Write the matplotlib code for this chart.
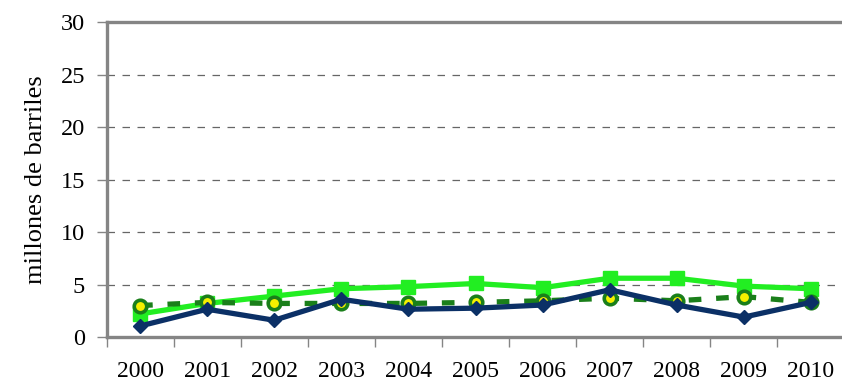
import numpy as np
import matplotlib
matplotlib.use("Agg")
import matplotlib.pyplot as plt
from matplotlib.ticker import FixedLocator, NullFormatter

# ---------- data ----------
years = ["2000", "2001", "2002", "2003", "2004", "2005",
         "2006", "2007", "2008", "2009", "2010"]
serie_verde = [2.2, 3.2, 3.9, 4.6, 4.8, 5.1, 4.7, 5.6, 5.6, 4.85, 4.6]
serie_punteada = [3.0, 3.3, 3.2, 3.2, 3.2, 3.3, 3.45, 3.7, 3.45, 3.85, 3.3]
serie_azul = [1.05, 2.65, 1.6, 3.6, 2.65, 2.75, 3.05, 4.5, 3.05, 1.9, 3.3]

plt.rcParams['font.family'] = ['Liberation Serif', 'DejaVu Serif']

fig = plt.figure(figsize=(8.42, 3.83), dpi=100)
ax = fig.add_axes([0.1265, 0.120, 0.8765, 0.8225])

x = np.arange(len(years))
gray = "#858585"

ax.plot(x, serie_verde, color="#22ee22", lw=3.8, marker="s", ms=10,
        mfc="#22ee22", mec="#22ee22", zorder=3)
ax.plot(x, serie_punteada, color="#1a7f1a", lw=3.8, dashes=(2.4, 2.8),
        marker="o", ms=9, mfc="#f5f000", mec="#1a7f1a", mew=2.6, zorder=4)
ax.plot(x, serie_azul, color="#0b3066", lw=3.8, marker="D", ms=7.5,
        mfc="#0b3066", mec="#0b3066", zorder=5)

ax.set_xlim(-0.5, len(years) - 0.5)
ax.set_ylim(0, 30)
ax.set_yticks(range(0, 31, 5))
ax.set_xticks(x)
ax.set_xticklabels(years)
ax.xaxis.set_minor_locator(FixedLocator(np.arange(-0.5, len(years), 1.0)))
ax.xaxis.set_minor_formatter(NullFormatter())
ax.tick_params(axis="x", which="major", length=0, pad=17, labelsize=17)
ax.tick_params(axis="x", which="minor", length=7, width=1, color=gray)
ax.tick_params(axis="y", length=7.5, width=1, color=gray, labelsize=17.5, pad=8)

for yv in range(5, 30, 5):
    ax.axhline(yv, color="#666666", lw=0.9, dashes=(6, 6), zorder=1)

for side in ["left", "bottom", "top", "right"]:
    ax.spines[side].set_color(gray)
    ax.spines[side].set_linewidth(2.4)

ax.set_ylabel("millones de barriles", fontsize=19, labelpad=10)

fig.savefig("out.png", dpi=100)
